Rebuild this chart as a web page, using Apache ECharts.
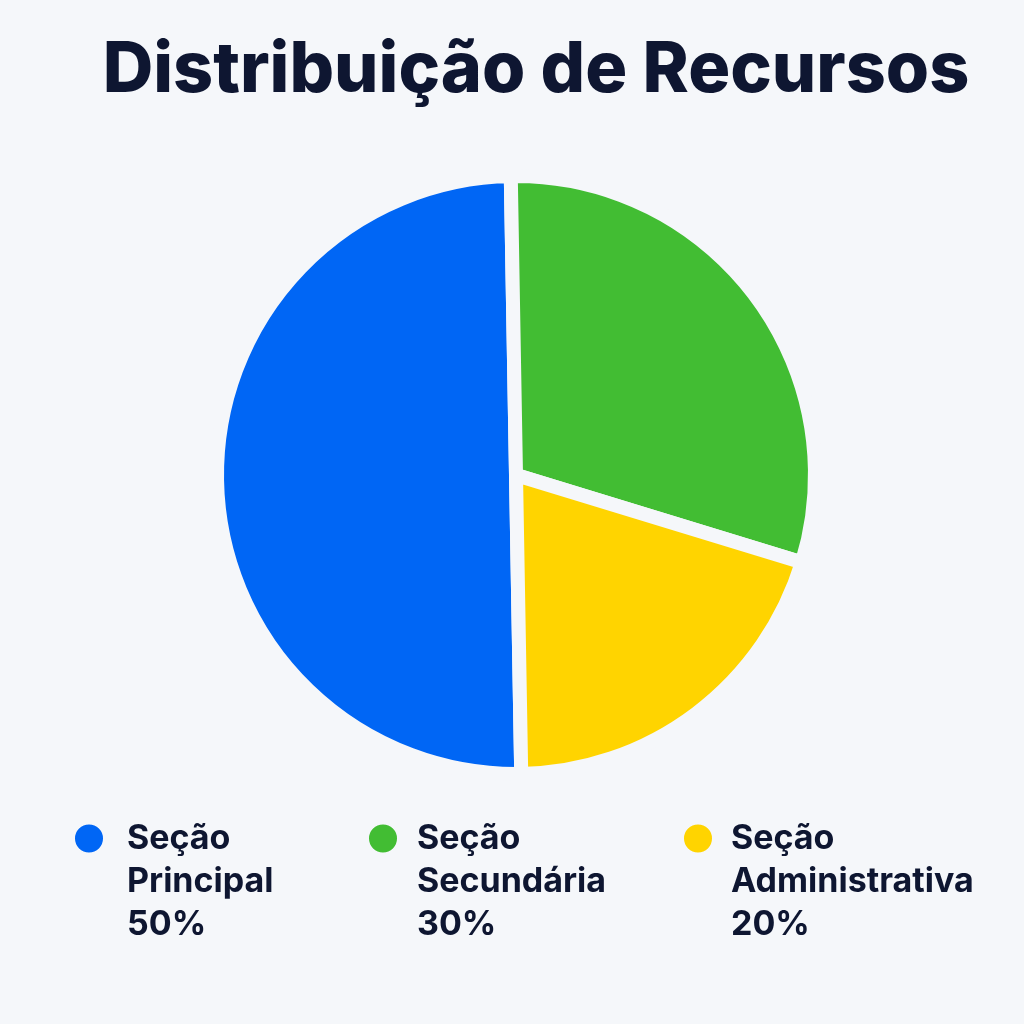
<!DOCTYPE html>
<html><head><meta charset="utf-8">
<script src="https://cdn.jsdelivr.net/npm/echarts@6/dist/echarts.min.js"></script>
<style>html,body{margin:0;padding:0;background:#f5f7fa}#c{width:1024px;height:1024px}</style>
</head><body><div id="c"></div>
<script>
const categories = ['Seção Principal', 'Seção Secundária', 'Seção Administrativa'];
const values = [50, 30, 20];
const labelLines = [['Seção', 'Principal'], ['Seção', 'Secundária'], ['Seção', 'Administrativa']];
const colors = ['#0066f5', '#42bd33', '#ffd400'];
const bg = '#f5f7fa';

const chart = echarts.init(document.getElementById('c'));
const legendLefts = [73, 367, 682];
const legendTextPad = [18, 14, 13];
const legends = categories.map((name, i) => ({
  data: [{ name: name, icon: 'circle' }],
  left: legendLefts[i],
  top: 731,
  orient: 'horizontal',
  itemWidth: 30,
  itemHeight: 30,
  itemGap: 0,
  padding: 0,
  selectedMode: false,
  formatter: function (n) {
    const k = categories.indexOf(n);
    return '\n\n' + labelLines[k].join('\n') + '\n' + values[k] + '%';
  },
  textStyle: {
    fontFamily: 'Inter',
    fontWeight: 700,
    fontSize: 34,
    lineHeight: 43,
    color: '#0e1631',
    padding: [0, 0, 0, legendTextPad[i]]
  }
}));

chart.setOption({
  backgroundColor: bg,
  animation: false,
  color: colors,
  title: {
    text: 'Distribuição de Recursos',
    left: 531,
    textAlign: 'center',
    top: 31,
    textStyle: { fontFamily: 'Inter', fontWeight: 800, fontSize: 70, color: '#0e1631' }
  },
  legend: legends,
  series: [{
    type: 'pie',
    center: [516, 475],
    radius: 299,
    startAngle: 271,
    clockwise: true,
    label: { show: false },
    labelLine: { show: false },
    itemStyle: { borderColor: bg, borderWidth: 14 },
    data: categories.map((c, i) => ({ name: c, value: values[i] }))
  }]
});
</script></body></html>
